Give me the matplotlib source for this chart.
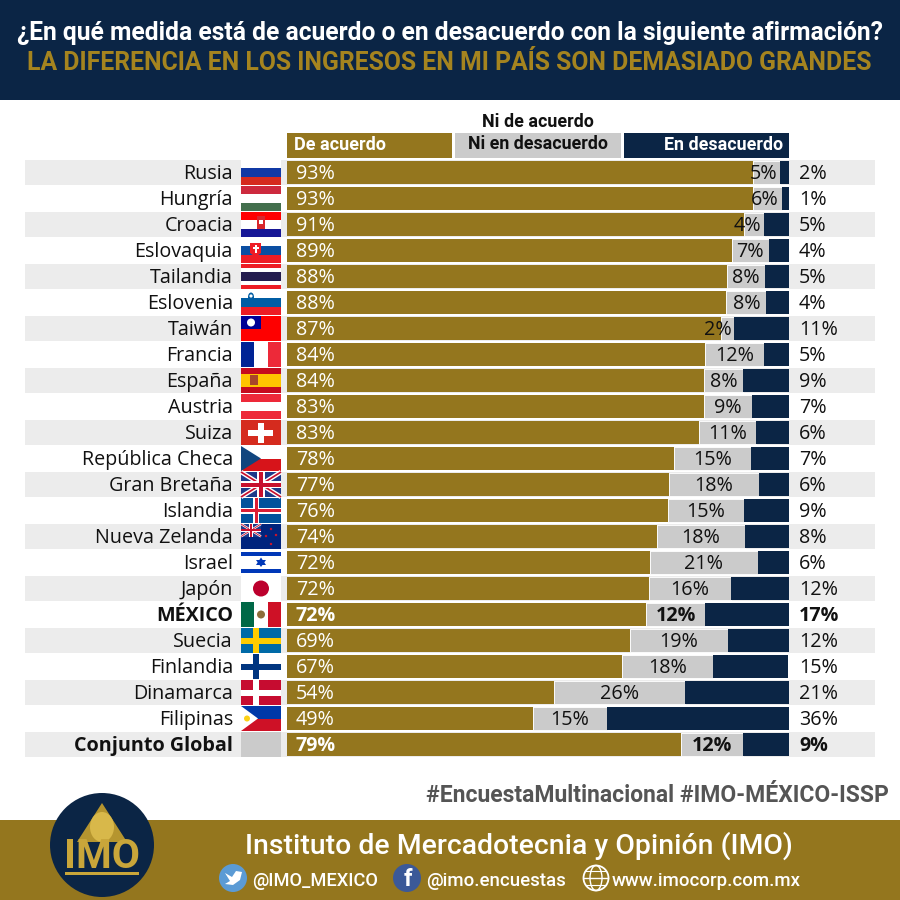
import matplotlib
matplotlib.use("Agg")
from matplotlib import pyplot as plt
from matplotlib.patches import Rectangle, Circle, Polygon, Ellipse

# data

countries = ["Rusia", "Hungría", "Croacia", "Eslovaquia", "Tailandia", "Eslovenia", "Taiwán",
             "Francia", "España", "Austria", "Suiza", "República Checa", "Gran Bretaña", "Islandia",
             "Nueva Zelanda", "Israel", "Japón", "MÉXICO", "Suecia", "Finlandia", "Dinamarca",
             "Filipinas", "Conjunto Global"]

# drawn bar lengths
acuerdo = [92.8, 92.8, 91.0, 88.6, 87.6, 87.5, 86.5, 83.3, 83.1, 83.1, 82.1, 77.1,
           76.1, 75.9, 73.7, 72.3, 72.1, 71.5, 68.3, 66.7, 53.2, 49.0, 78.5]
neutral = [5.4, 5.8, 4.0, 7.4, 7.6, 8.0, 2.6, 11.8, 7.8, 9.6, 11.4, 15.3,
           17.9, 15.1, 17.5, 21.5, 16.3, 11.8, 19.5, 18.1, 26.1, 14.7, 12.4]
desacuerdo = [1.8, 1.4, 5.0, 4.0, 4.8, 4.6, 10.9, 5.0, 9.2, 7.4, 6.6, 7.6,
              6.0, 9.0, 8.8, 6.2, 11.6, 16.7, 12.2, 15.1, 20.7, 36.3, 9.2]

# printed labels
acuerdo_lbl = [93, 93, 91, 89, 88, 88, 87, 84, 84, 83, 83, 78, 77, 76, 74, 72, 72, 72, 69, 67, 54, 49, 79]
neutral_lbl = [5, 6, 4, 7, 8, 8, 2, 12, 8, 9, 11, 15, 18, 15, 18, 21, 16, 12, 19, 18, 26, 15, 12]
desacuerdo_lbl = [2, 1, 5, 4, 5, 4, 11, 5, 9, 7, 6, 7, 6, 9, 8, 6, 12, 17, 12, 15, 21, 36, 9]

bold_rows = ["MÉXICO", "Conjunto Global"]

NAVY = "#0b2545"
GOLD = "#94761e"
GRAY = "#cbcbcb"
STRIPE = "#ececec"
BODY = ["Open Sans", "DejaVu Sans"]
HEAD = ["Roboto", "DejaVu Sans"]

fig = plt.figure(figsize=(9, 9), dpi=100)

# pixel canvas for the banner, stripes, flags and logo
bg = fig.add_axes([0, 0, 1, 1])
bg.set_xlim(0, 900)
bg.set_ylim(900, 0)
bg.axis("off")


def rect(x, y, w, h, color, z=2):
    bg.add_patch(Rectangle((x, y), w, h, color=color, lw=0, zorder=z))


def poly(pts, color, z=3):
    bg.add_patch(Polygon(pts, closed=True, color=color, lw=0, zorder=z))


def fit_text(x0, x1, y, s, color, weight="bold"):
    # no condensed font here, so size each header to the width it has in the picture
    t = bg.text((x0 + x1) / 2, y, s, color=color, fontsize=14, fontweight=weight, family=HEAD,
                ha="center", va="center", zorder=6)
    width = t.get_window_extent(fig.canvas.get_renderer()).width
    t.set_fontsize(14 * (x1 - x0) / width)
    return t


def hstripes(y, colors, x=241, w=40, h=25):
    step = h / len(colors)
    for i, c in enumerate(colors):
        rect(x, y + i * step, w, step + 0.2, c)


def vstripes(y, colors, x=241, w=40, h=25):
    step = w / len(colors)
    for i, c in enumerate(colors):
        rect(x + i * step, y, step + 0.2, h, c)


def nordic(y, base, cross, inner=None):
    rect(241, y, 40, 25, base)
    rect(241, y + 9.5, 40, 6, cross)
    rect(253, y, 6, 25, cross)
    if inner:
        rect(241, y + 11, 40, 3, inner)
        rect(254.5, y, 3, 25, inner)


def union_jack(x, y, w, h):
    rect(x, y, w, h, "#1d3a8a", 3)
    for a, b in [((x, y), (x + w, y + h)), ((x, y + h), (x + w, y))]:
        bg.plot([a[0], b[0]], [a[1], b[1]], color="white", lw=h * 0.13, zorder=3, solid_capstyle="butt")
        bg.plot([a[0], b[0]], [a[1], b[1]], color="#c8102e", lw=h * 0.05, zorder=3, solid_capstyle="butt")
    rect(x + w * 0.4, y, w * 0.2, h, "white", 3)
    rect(x, y + h * 0.36, w, h * 0.28, "white", 3)
    rect(x + w * 0.45, y, w * 0.1, h, "#c8102e", 3)
    rect(x, y + h * 0.42, w, h * 0.16, "#c8102e", 3)


def draw_flag(name, y):
    if name == "Rusia":
        hstripes(y, ["white", "#1039a5", "#d52b1e"])
    elif name == "Hungría":
        hstripes(y, ["#cd2a3e", "white", "#436f4d"])
    elif name == "Croacia":
        hstripes(y, ["#ff0000", "white", "#171796"])
        rect(257, y + 4, 8, 13, "#d8262c", 3)
        rect(259, y + 8, 4, 4, "white", 3)
    elif name == "Eslovaquia":
        hstripes(y, ["white", "#0b4ea2", "#ee1c25"])
        poly([(250, y + 5), (261, y + 5), (261, y + 15), (255.5, y + 19), (250, y + 15)], "#ee1c25")
        rect(254.5, y + 7, 2, 8, "white", 4)
        rect(252.5, y + 9, 6, 2, "white", 4)
    elif name == "Tailandia":
        hstripes(y, ["#ed1c24", "white", "#241d4f", "#241d4f", "white", "#ed1c24"])
    elif name == "Eslovenia":
        hstripes(y, ["white", "#005da4", "#ed1c24"])
        bg.add_patch(Ellipse((251, y + 7), 6, 9, color="#005da4", lw=0, zorder=3))
        bg.add_patch(Circle((251, y + 6), 1.6, color="white", lw=0, zorder=4))
    elif name == "Taiwán":
        rect(241, y, 40, 25, "#fe0000")
        rect(241, y, 20, 13, "#000095", 3)
        bg.add_patch(Circle((251, y + 6.5), 4, color="white", lw=0, zorder=4))
    elif name == "Francia":
        vstripes(y, ["#002395", "white", "#ed2939"])
    elif name == "España":
        hstripes(y, ["#c60b1e", "#ffc400", "#ffc400", "#c60b1e"])
        rect(250, y + 7, 8, 10, "#a8452a", 3)
    elif name == "Austria":
        hstripes(y, ["#ed2939", "white", "#ed2939"])
    elif name == "Suiza":
        rect(241, y, 40, 25, "#d52b1e")
        rect(248, y + 10, 25, 6, "white", 3)
        rect(258, y + 3, 6, 20, "white", 3)
    elif name == "República Checa":
        hstripes(y, ["white", "#d7141a"])
        poly([(241, y), (261, y + 12.5), (241, y + 25)], "#11457e")
    elif name == "Gran Bretaña":
        union_jack(241, y, 40, 25)
    elif name == "Islandia":
        nordic(y, "#02529c", "white", "#dc1e35")
    elif name == "Nueva Zelanda":
        rect(241, y, 40, 25, "#00247d")
        union_jack(241, y, 20, 12.5)
        for sx, sy in [(271, 5), (266, 12), (276, 11), (271, 20)]:
            bg.add_patch(Circle((sx, y + sy), 1.2, color="#cc142b", lw=0, zorder=3))
    elif name == "Israel":
        rect(241, y, 40, 25, "white")
        rect(241, y + 2, 40, 4, "#0038b8", 3)
        rect(241, y + 19, 40, 4, "#0038b8", 3)
        poly([(261, y + 7.5), (266, y + 15), (256, y + 15)], "#0038b8")
        poly([(261, y + 17), (266, y + 10), (256, y + 10)], "#0038b8")
    elif name == "Japón":
        rect(241, y, 40, 25, "white")
        bg.add_patch(Circle((261, y + 12.5), 8, color="#bc002d", lw=0, zorder=3))
    elif name == "MÉXICO":
        vstripes(y, ["#006847", "white", "#ce1126"])
        bg.add_patch(Circle((261, y + 12.5), 4, color="#8c6d3a", lw=0, zorder=3))
    elif name == "Suecia":
        nordic(y, "#006aa7", "#fecc00")
    elif name == "Finlandia":
        nordic(y, "white", "#003580")
    elif name == "Dinamarca":
        nordic(y, "#c60c30", "white")
    elif name == "Filipinas":
        hstripes(y, ["#0038a8", "#ce1126"])
        poly([(241, y), (258, y + 12.5), (241, y + 25)], "white")
        bg.add_patch(Circle((247, y + 12.5), 3, color="#fcd116", lw=0, zorder=4))
    else:
        rect(241, y, 40, 25, GRAY)


# banner and footer
rect(0, 0, 900, 100, NAVY)
rect(0, 820, 900, 80, GOLD)
fit_text(15, 885, 33, "¿En qué medida está de acuerdo o en desacuerdo con la siguiente afirmación?", "white")
fit_text(25, 873, 63, "LA DIFERENCIA EN LOS INGRESOS EN MI PAÍS SON DEMASIADO GRANDES", "#a5841f")

# stripes and flags
for i, name in enumerate(countries):
    top = 160 + 26 * i
    if i % 2 == 0:
        rect(25, top, 850, 25, STRIPE, 1)
    draw_flag(name, top)

# legend boxes
rect(287, 133, 165, 25, GOLD)
rect(455, 133, 166, 25, GRAY)
rect(624, 133, 165, 25, NAVY)
fit_text(294, 386, 145, "De acuerdo", "white")
fit_text(482, 594, 122, "Ni de acuerdo", "#111111")
fit_text(468, 608, 144, "Ni en desacuerdo", "#111111")
fit_text(664, 783, 145, "En desacuerdo", "white")

# the stacked bars
ax = fig.add_axes([287 / 900, 1 - 757.5 / 900, 502 / 900, 598 / 900])
ax.patch.set_alpha(0)
ax.set_xlim(0, 100)
ax.set_ylim(len(countries) - 0.5, -0.5)
ax.axis("off")
rows = list(range(len(countries)))
left3 = [a + n for a, n in zip(acuerdo, neutral)]
ax.barh(rows, acuerdo, 23 / 26, color=GOLD)
ax.barh(rows, neutral, 23 / 26, left=acuerdo, color=GRAY, edgecolor="white", linewidth=0.6)
ax.barh(rows, desacuerdo, 23 / 26, left=left3, color=NAVY)

PX = 100 / 502
for i, name in enumerate(countries):
    w = "bold" if name in bold_rows else "normal"
    font = dict(fontsize=14.2, family=BODY, fontweight=w, va="center", clip_on=False)
    y = i + 0.06
    ax.text(-54 * PX, y, name, ha="right", color="#111111", **font)
    ax.text(9 * PX, y, f"{acuerdo_lbl[i]}%", ha="left", color="white", **font)
    ax.text(102, y, f"{desacuerdo_lbl[i]}%", ha="left", color="#111111", **font)
    # labels that don't fit in the grey piece stick out to the left
    if neutral[i] / PX < 32:
        ax.text(left3[i] - 3 * PX, y, f"{neutral_lbl[i]}%", ha="right", color="#111111", **font)
    else:
        ax.text(acuerdo[i] + neutral[i] / 2, y, f"{neutral_lbl[i]}%", ha="center", color="#111111", **font)

# footer text
fit_text(425, 889, 795, "#EncuestaMultinacional #IMO-MÉXICO-ISSP", "#555555")
fit_text(245, 792, 846, "Instituto de Mercadotecnia y Opinión (IMO)", "white", "medium")
fit_text(252, 378, 881, "@IMO_MEXICO", "white", "medium")
fit_text(426, 566, 881, "@imo.encuestas", "white", "medium")
fit_text(612, 801, 881, "www.imocorp.com.mx", "white", "medium")

# icons
bg.add_patch(Circle((233, 878), 14, color="#5b9bd5", lw=0, zorder=3))
poly([(225, 873), (232, 877), (236, 871), (242, 872), (240, 880), (233, 885), (225, 884), (230, 881)], "white", 4)
bg.add_patch(Circle((407, 878), 14, color="#3b5998", lw=0, zorder=3))
bg.text(408, 880, "f", color="white", fontsize=17, fontweight="bold", family=HEAD, ha="center", va="center", zorder=5)
bg.add_patch(Circle((596, 878), 12.5, fill=False, ec="white", lw=1.3, zorder=3))
bg.add_patch(Ellipse((596, 878), 12, 25, fill=False, ec="white", lw=1, zorder=3))
bg.plot([584, 608], [878, 878], color="white", lw=1, zorder=3)
bg.plot([586, 606], [871, 871], color="white", lw=0.8, zorder=3)
bg.plot([586, 606], [885, 885], color="white", lw=0.8, zorder=3)

# logo
bg.add_patch(Circle((102, 845), 52, color=NAVY, lw=0, zorder=3))
poly([(102, 803), (127, 842), (77, 842)], "#b5952f", 4)
bg.add_patch(Ellipse((102, 827), 24, 30, color="#d8b84a", lw=0, zorder=5))
fit_text(64, 140, 857, "IMO", "#c9a63a")
rect(65, 872, 74, 2.5, "#c9a63a", 5)

fig.savefig("out.png", dpi=100)
